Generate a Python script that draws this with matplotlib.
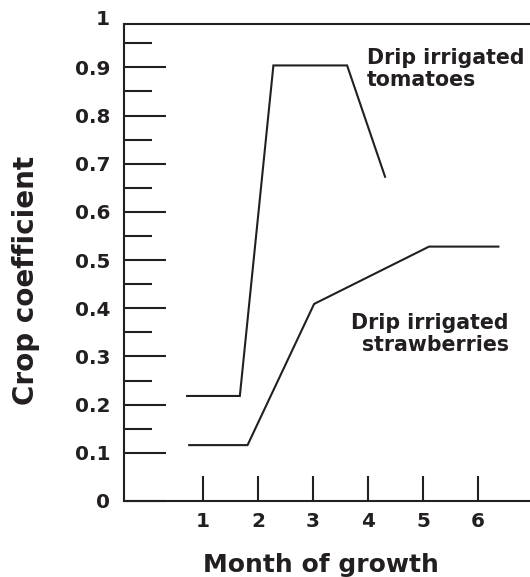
import matplotlib
matplotlib.use("Agg")
import matplotlib.pyplot as plt

# Data
tomato_x = [0.71, 1.67, 2.28, 3.62, 4.31]
tomato_y = [0.218, 0.218, 0.904, 0.904, 0.673]
straw_x = [0.75, 1.81, 3.02, 5.11, 6.37]
straw_y = [0.116, 0.116, 0.409, 0.528, 0.528]
x_ticks = [1, 2, 3, 4, 5, 6]
y_major = [0, 0.1, 0.2, 0.3, 0.4, 0.5, 0.6, 0.7, 0.8, 0.9]
y_major_labels = ["0", "0.1", "0.2", "0.3", "0.4", "0.5", "0.6", "0.7", "0.8", "0.9"]
y_minor = [0.15, 0.25, 0.35, 0.45, 0.55, 0.65, 0.75, 0.85, 0.95]
top_label = "1"
tomato_label = "Drip irrigated\ntomatoes"
straw_label = "Drip irrigated\nstrawberries"
x_title = "Month of growth"
y_title = "Crop coefficient"

C = "#231f20"
plt.rcParams['font.family'] = ['DejaVu Sans']
plt.rcParams['font.weight'] = 'bold'

fig = plt.figure(figsize=(5.30, 5.77), dpi=100)
ax = fig.add_axes([124/530, 1 - 501/577, 406/530, (501 - 24)/577])

lw = 1.5
ax.plot(tomato_x, tomato_y, color=C, lw=lw, solid_joinstyle='miter')
ax.plot(straw_x, straw_y, color=C, lw=lw, solid_joinstyle='miter')

ax.set_xlim(-0.436, 6.945)
ax.set_ylim(0, 0.99)

ax.spines['right'].set_visible(False)
for s in ['left', 'top', 'bottom']:
    ax.spines[s].set_linewidth(lw)
    ax.spines[s].set_color(C)

ax.set_xticks(x_ticks)
ax.set_xticklabels([str(v) for v in x_ticks])
ax.set_yticks(y_major)
ax.set_yticklabels(y_major_labels)
ax.set_yticks(y_minor, minor=True)
ax.set_xticks([], minor=True)

ax.tick_params(axis='y', which='major', direction='in', length=30, width=lw,
               color=C, labelsize=14.4, pad=10, labelcolor=C)
ax.tick_params(axis='y', which='minor', direction='in', length=20, width=lw, color=C)
ax.tick_params(axis='x', which='major', direction='in', length=18, width=lw,
               color=C, labelsize=14.4, pad=8, labelcolor=C)

ax.text(-14/406, 1.0, top_label, transform=ax.get_yaxis_transform(),
        ha='right', va='center', fontsize=14.4, fontweight='bold', color=C, clip_on=False)

ax.text(3.98, 0.94, tomato_label, ha='left', va='top', fontsize=14.8,
        fontweight='bold', color=C, linespacing=1.15)
ax.text(6.56, 0.39, straw_label, ha='right', va='top', fontsize=14.8,
        fontweight='bold', color=C, linespacing=1.15, multialignment='right')

fig.text(321/530, 1 - 572/577, x_title, ha='center', va='baseline',
         fontsize=18, fontweight='bold', color=C)
fig.text(26/530, 1 - 280/577, y_title, ha='center', va='center', rotation=90,
         fontsize=20, fontweight='bold', color=C)

fig.savefig("out.png", dpi=100)
